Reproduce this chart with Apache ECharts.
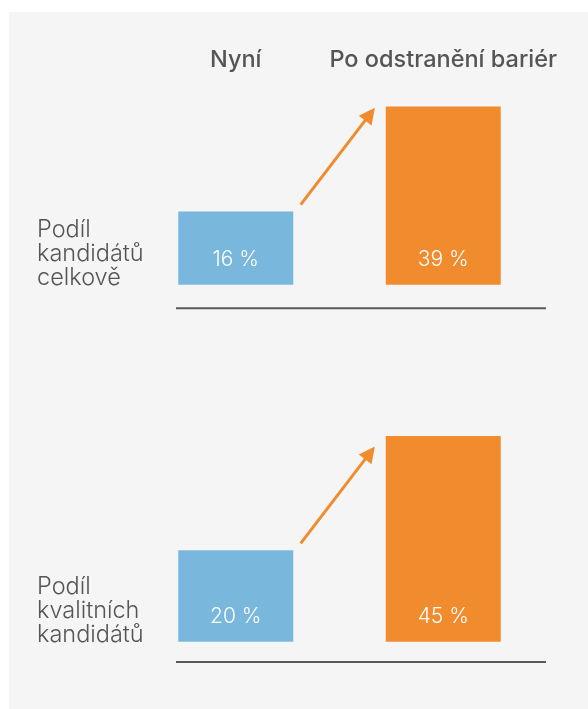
<!DOCTYPE html>
<html>
<head>
<meta charset="utf-8">
<script src="https://cdn.jsdelivr.net/npm/echarts@6/dist/echarts.min.js"></script>
<style>
  html, body { margin: 0; padding: 0; background: #fff; }
  #chart { width: 588px; height: 709px; }
</style>
</head>
<body>
<div id="chart"></div>
<script>
// data
var categories = ['Nyní', 'Po odstranění bariér'];
var rowLabels = ['Podíl\nkandidátů\ncelkově', 'Podíl\nkvalitních\nkandidátů'];
var totalShare = [16, 39];
var qualityShare = [20, 45];

var barColors = ['#79b8dc', '#f08b2e'];
var textColor = '#555555';
var font = 'Inter';

var chart = echarts.init(document.getElementById('chart'));

// arrow: starts just off the top-right corner of the "now" bar
function arrowCoords(now) {
    return [[0.313, now + 1.5], [0.647, now + 21.3]];
}

function barSeries(idx, values) {
    return {
        type: 'bar',
        xAxisIndex: idx * 2,
        yAxisIndex: idx,
        barWidth: 115,
        data: values,
        itemStyle: {
            color: function (p) { return barColors[p.dataIndex]; }
        },
        label: {
            show: true,
            position: 'insideBottom',
            distance: 15,
            formatter: '{c} %',
            color: '#fff',
            fontFamily: font,
            fontWeight: 300,
            fontSize: 21
        },
        silent: true
    };
}

function arrowSeries(idx, values) {
    return {
        type: 'lines',
        coordinateSystem: 'cartesian2d',
        xAxisIndex: idx * 2 + 1,
        yAxisIndex: idx,
        symbol: ['none', 'triangle'],
        symbolSize: [15, 16],
        lineStyle: { color: barColors[1], width: 3, opacity: 1 },
        data: [{ coords: arrowCoords(values[0]) }],
        silent: true,
        z: 5
    };
}

var grids = [
    { left: 132, width: 415, top: 79, height: 205.7 },
    { left: 132, width: 415, top: 436, height: 205.7 }
];

var xAxes = [];
var yAxes = [];
grids.forEach(function (g, i) {
    xAxes.push({
        type: 'category',
        gridIndex: i,
        data: categories,
        position: 'top',
        axisLine: { show: false },
        axisTick: { show: false },
        axisLabel: {
            show: i === 0,
            interval: 0,
            hideOverlap: false,
            margin: 7,
            color: textColor,
            fontFamily: font,
            fontWeight: 500,
            fontSize: 23.5
        }
    });
    xAxes.push({
        type: 'value',
        gridIndex: i,
        min: -0.5,
        max: 1.5,
        show: false
    });
    yAxes.push({
        type: 'value',
        gridIndex: i,
        min: 0,
        max: 45,
        show: false
    });
});

var rules = [308.3, 662];
var labelY = [254, 611];

var graphics = [{
    type: 'rect',
    shape: { x: 9, y: 12, width: 579, height: 697 },
    style: { fill: '#f5f5f5' },
    z: -10
}];
rules.forEach(function (y) {
    graphics.push({
        type: 'line',
        shape: { x1: 176, y1: y, x2: 546, y2: y },
        style: { stroke: '#5a5a5a', lineWidth: 2 }
    });
});
rowLabels.forEach(function (t, i) {
    graphics.push({
        type: 'text',
        x: 37,
        y: labelY[i],
        style: {
            text: t,
            fill: textColor,
            font: '300 23.5px ' + font,
            lineHeight: 24,
            verticalAlign: 'middle'
        }
    });
});

chart.setOption({
    animation: false,
    grid: grids,
    xAxis: xAxes,
    yAxis: yAxes,
    graphic: graphics,
    series: [
        barSeries(0, totalShare),
        barSeries(1, qualityShare),
        arrowSeries(0, totalShare),
        arrowSeries(1, qualityShare)
    ]
});
</script>
</body>
</html>
